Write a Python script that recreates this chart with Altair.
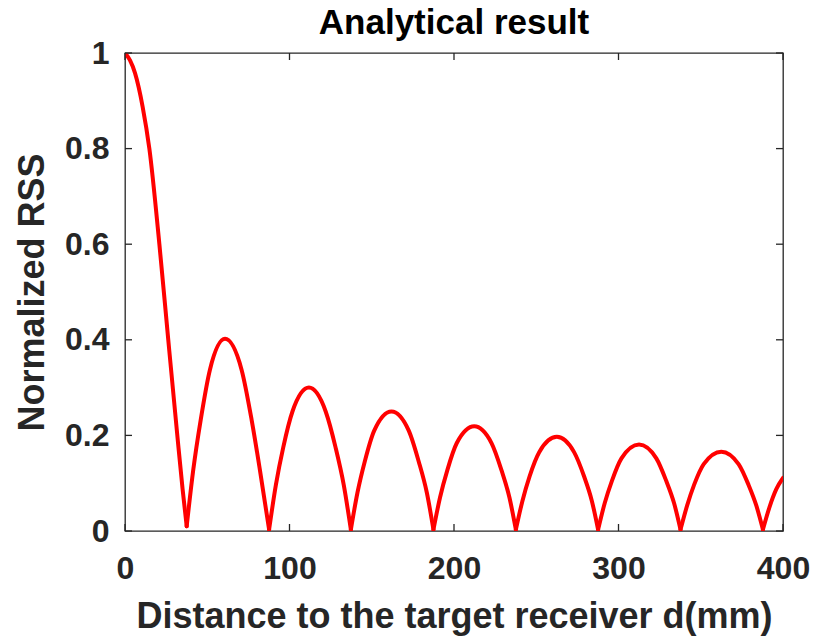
import altair as alt
import pandas as pd

# Normalized received signal strength versus distance d (mm).
# Each lobe between two nulls is its own segment so the nulls stay sharp.
distance_mm = [
    0, 3, 6.1, 10.7, 14.8, 20.9, 26.3, 31.8, 35, 37.5,
    37.5, 41.5, 46, 51.6, 60.8, 70.9, 77, 82, 87.6,
    87.6, 91.7, 96.2, 101.8, 111.8, 122, 128, 133, 137.3,
    137.3, 141.3, 145.8, 151.5, 162, 172.5, 178.5, 183.5, 187.5,
    187.5, 191.5, 196, 201.7, 212.3, 222.8, 228.8, 233.7, 237.6,
    237.6, 241.6, 246, 251.8, 262.5, 273, 279, 283.8, 287.6,
    287.6, 291.6, 296, 301.8, 312.5, 323, 329, 333.8, 337.7,
    337.7, 341.7, 346, 351.8, 362.5, 373, 379, 383.8, 387.8,
    387.8, 391.8, 396, 400,
]
rss = [
    1.0, 0.985, 0.958, 0.888, 0.8, 0.6, 0.4, 0.2, 0.088, 0.01,
    0.01, 0.128, 0.232, 0.337, 0.402, 0.337, 0.232, 0.128, 0.003,
    0.003, 0.096, 0.175, 0.25, 0.300, 0.25, 0.175, 0.096, 0.003,
    0.003, 0.08, 0.146, 0.21, 0.250, 0.21, 0.146, 0.08, 0.003,
    0.003, 0.07, 0.128, 0.184, 0.219, 0.184, 0.128, 0.07, 0.003,
    0.003, 0.063, 0.115, 0.165, 0.197, 0.165, 0.115, 0.063, 0.003,
    0.003, 0.058, 0.105, 0.152, 0.181, 0.152, 0.105, 0.058, 0.003,
    0.003, 0.053, 0.097, 0.14, 0.166, 0.14, 0.097, 0.053, 0.003,
    0.003, 0.05, 0.088, 0.111,
]
lobe = (
    [0] * 10 + [1] * 9 + [2] * 9 + [3] * 9 + [4] * 9
    + [5] * 9 + [6] * 9 + [7] * 9 + [8] * 4
)

x_ticks = [0, 100, 200, 300, 400]
y_ticks = [0, 0.2, 0.4, 0.6, 0.8, 1.0]

W, H = 658, 478
TICK = 7
INK = "#262626"
FONT = "Liberation Sans"

curve = pd.DataFrame({"d": distance_mm, "rss": rss, "lobe": lobe})
xt = pd.DataFrame({"t": x_ticks})
yt = pd.DataFrame({"t": y_ticks})

x_scale = alt.Scale(domain=[0, 400], nice=False, zero=False)
y_scale = alt.Scale(domain=[0, 1], nice=False)

line = alt.Chart(curve).mark_line(
    color="#FF0000", strokeWidth=4, interpolate="monotone", clip=True,
    strokeCap="round", strokeJoin="round"
).encode(
    x=alt.X("d:Q", scale=x_scale,
            axis=alt.Axis(values=x_ticks, title="Distance to the target receiver d(mm)",
                          ticks=False, tickSize=0, domain=False, grid=False,
                          labelFlush=False, labelPadding=22, titlePadding=15,
                          format="d")),
    y=alt.Y("rss:Q", scale=y_scale,
            axis=alt.Axis(values=y_ticks, title="Normalized RSS",
                          ticks=False, tickSize=0, domain=False, grid=False,
                          labelFlush=False, labelPadding=16, titlePadding=13,
                          format=".1~f")),
    detail="lobe:N",
    order="d:Q",
)

# inward-pointing tick marks on all four sides of the box
bottom_ticks = alt.Chart(xt).mark_rule(color=INK, strokeWidth=1.3).encode(
    x=alt.X("t:Q", scale=x_scale), y=alt.value(H), y2=alt.value(H - TICK))
top_ticks = alt.Chart(xt).mark_rule(color=INK, strokeWidth=1.3).encode(
    x=alt.X("t:Q", scale=x_scale), y=alt.value(0), y2=alt.value(TICK))
left_ticks = alt.Chart(yt).mark_rule(color=INK, strokeWidth=1.3).encode(
    y=alt.Y("t:Q", scale=y_scale), x=alt.value(0), x2=alt.value(TICK))
right_ticks = alt.Chart(yt).mark_rule(color=INK, strokeWidth=1.3).encode(
    y=alt.Y("t:Q", scale=y_scale), x=alt.value(W), x2=alt.value(W - TICK))

chart = alt.layer(line, bottom_ticks, top_ticks, left_ticks, right_ticks).properties(
    width=W, height=H,
    background="white",
    title=alt.TitleParams("Analytical result", anchor="middle", fontSize=35,
                          font=FONT, fontWeight="bold", color="#000000",
                          offset=6, dy=10),
    autosize=alt.AutoSizeParams(type="none"),
    padding={"left": 125, "top": 53, "right": 35, "bottom": 106},
).configure_view(
    stroke=INK, strokeWidth=1.3
).configure_axis(
    labelFont=FONT, labelFontSize=32, labelFontWeight="bold", labelColor=INK,
    titleFont=FONT, titleFontSize=36, titleFontWeight="bold", titleColor=INK,
)

chart.save("out.html", embed_options={"renderer": "svg", "actions": False})
